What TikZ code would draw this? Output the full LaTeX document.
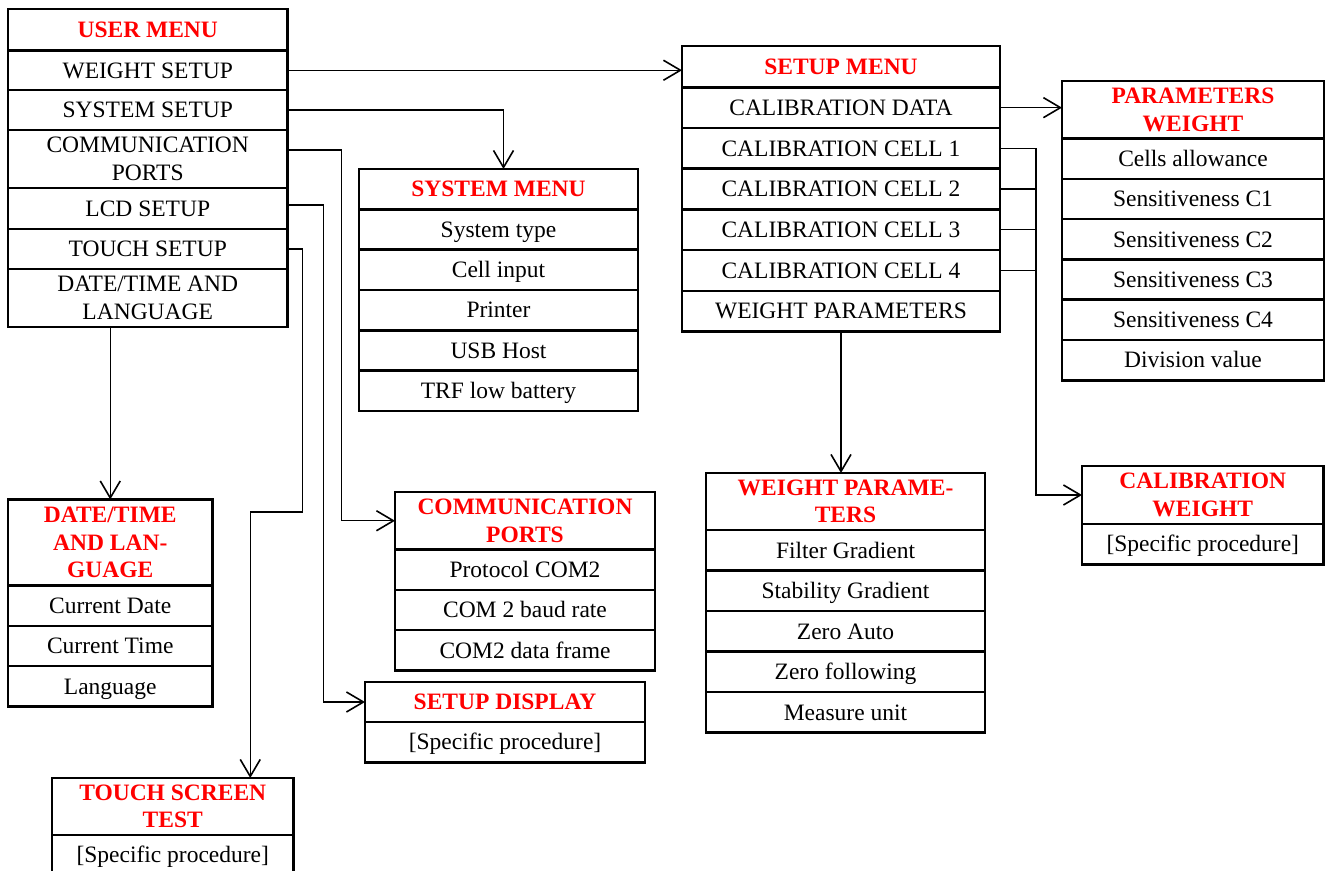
\documentclass[tikz,border=0pt]{standalone}
\usepackage{fontspec}
\setmainfont{Liberation Serif}
\usetikzlibrary{positioning,arrows.meta}

\tikzset{
  box/.style={draw, line width=2.6pt, outer sep=0pt, inner sep=0pt, align=center,
    minimum width=#1, minimum height=40.3pt, font=\fontsize{23.5}{27.5}\selectfont},
  head/.style={box=#1, text=red, font=\fontsize{23.5}{27.5}\selectfont\bfseries},
  item/.style={box=#1, text height=15.6pt, text depth=0pt},
  link/.style={line width=1.3pt, -{Straight Barb[length=17pt,width=20pt,line width=1.6pt]}},
  wire/.style={line width=1.3pt},
}

\begin{document}
\begin{tikzpicture}[x=1pt,y=-1pt]
\useasboundingbox (0,0) rectangle (1325,870);

% user menu
\node[head=279.5pt, minimum height=41.5pt, anchor=north west] (um0) at (8,9) {USER MENU};
\node[item=279.5pt, minimum height=39.5pt, below=0pt of um0] (um1) {WEIGHT SETUP};
\node[item=279.5pt, minimum height=40pt, below=0pt of um1] (um2) {SYSTEM SETUP};
\node[box=279.5pt, minimum height=58pt, below=0pt of um2] (um3) {COMMUNICATION\\PORTS};
\node[item=279.5pt, minimum height=41pt, below=0pt of um3] (um4) {LCD SETUP};
\node[item=279.5pt, minimum height=40pt, below=0pt of um4] (um5) {TOUCH SETUP};
\node[box=279.5pt, minimum height=58pt, below=0pt of um5] (um6) {DATE/TIME AND\\LANGUAGE};

% system menu
\node[head=279pt, anchor=north west] (sys0) at (359,169) {SYSTEM MENU};
\foreach \txt [count=\i, remember=\i as \j (initially 0)] in {System type, Cell input, Printer, USB Host, TRF low battery}
  \node[item=279pt, below=0pt of sys\j] (sys\i) {\txt};

% setup menu
\node[head=318pt, minimum height=41.3pt, anchor=north west] (st0) at (682,46) {SETUP MENU};
\foreach \txt [count=\i, remember=\i as \j (initially 0)] in {CALIBRATION DATA, CALIBRATION CELL 1, CALIBRATION CELL 2, CALIBRATION CELL 3, CALIBRATION CELL 4, WEIGHT PARAMETERS}
  \node[item=318pt, minimum height=40.7pt, below=0pt of st\j] (st\i) {\txt};

% parameters weight
\node[head=262pt, minimum height=57.5pt, anchor=north west] (pw0) at (1062,81) {PARAMETERS\\WEIGHT};
\foreach \txt [count=\i, remember=\i as \j (initially 0)] in {Cells allowance, Sensitiveness C1, Sensitiveness C2, Sensitiveness C3, Sensitiveness C4, Division value}
  \node[item=262pt, below=0pt of pw\j] (pw\i) {\txt};

% calibration weight
\node[head=241.5pt, minimum height=58pt, anchor=north west] (cw0) at (1082,466) {CALIBRATION\\WEIGHT};
\node[item=241.5pt, below=0pt of cw0] (cw1) {[Specific procedure]};

% weight parameters
\node[head=279pt, minimum height=57pt, anchor=north west] (wp0) at (706,473) {WEIGHT PARAME-\\TERS};
\foreach \txt [count=\i, remember=\i as \j (initially 0)] in {Filter Gradient, Stability Gradient, Zero Auto, Zero following, Measure unit}
  \node[item=279pt, minimum height=40.5pt, below=0pt of wp\j] (wp\i) {\txt};

% communication ports
\node[head=260pt, minimum height=57.5pt, anchor=north west] (cp0) at (395,492) {COMMUNICATION\\PORTS};
\foreach \txt [count=\i, remember=\i as \j (initially 0)] in {Protocol COM2, COM 2 baud rate, COM2 data frame}
  \node[item=260pt, below=0pt of cp\j] (cp\i) {\txt};

% setup display
\node[head=280pt, minimum height=40pt, anchor=north west] (sd0) at (365,682) {SETUP DISPLAY};
\node[item=280pt, below=0pt of sd0] (sd1) {[Specific procedure]};

% date/time and language
\node[head=204.5pt, minimum height=86pt, anchor=north west] (dt0) at (8,499.5) {DATE/TIME\\AND LAN-\\GUAGE};
\foreach \txt [count=\i, remember=\i as \j (initially 0)] in {Current Date, Current Time, Language}
  \node[item=204.5pt, below=0pt of dt\j] (dt\i) {\txt};

% touch screen test
\node[head=241.5pt, minimum height=57pt, anchor=north west] (ts0) at (52,778) {TOUCH SCREEN\\TEST};
\node[item=241.5pt, below=0pt of ts0] (ts1) {[Specific procedure]};

% connectors
\draw[link] (um1.east) -- (um1.east -| st0.west);
\draw[link] (um2.east) -| ([xshift=5pt]sys0.north);
\draw[link] ([yshift=9pt]um3.east) -- ++(54,0) |- (cp0.west);
\draw[link] ([yshift=3.5pt]um4.east) -- ++(36,0) |- (sd0.west);
\draw[link] (um5.east) -- ++(15,0) -- ++(0,263) -| ([xshift=77.5pt]ts0.north);
\draw[link] (um6.south -| dt0.north) -- (dt0.north);
\draw[link] (st1.east) -- (st1.east -| pw0.west);
\draw[link] (st2.east) -- ++(36,0) |- (cw0.west);
\foreach \i in {3,4,5} \draw[wire] (st\i.east) -- ++(36,0);
\draw[link] (st6.south) -- (st6.south |- wp0.north);
\end{tikzpicture}
\end{document}
